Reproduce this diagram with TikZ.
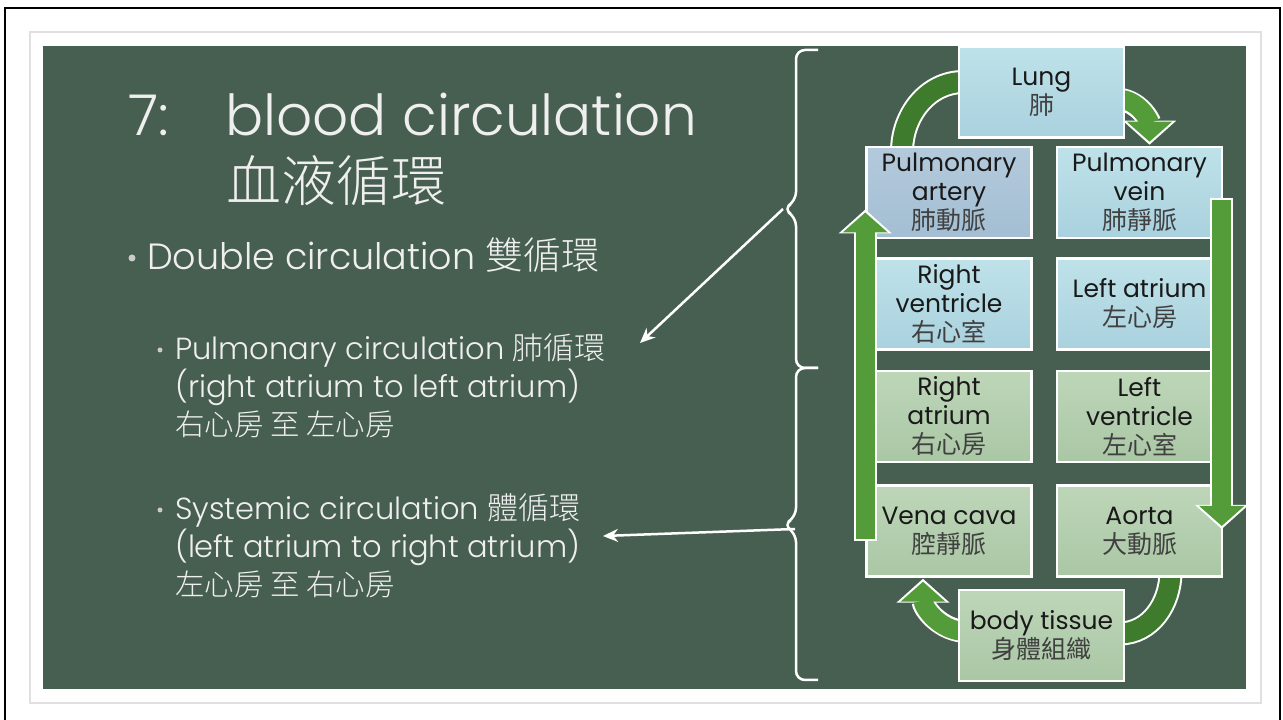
\documentclass[tikz,border=0pt]{standalone}
\usepackage{fontspec}
\setmainfont{Poppins}
\IfFontExistsTF{Poppins Light}{\newfontfamily\thinfont{Poppins Light}}{\newfontfamily\thinfont{Poppins}}
\newfontfamily\cjk{Noto Sans CJK TC}
\IfFontExistsTF{Noto Sans CJK TC Light}{\newfontfamily\cjkthin{Noto Sans CJK TC Light}}{\newfontfamily\cjkthin{Noto Sans CJK TC}}
\usetikzlibrary{positioning,arrows.meta,backgrounds}

\definecolor{board}{HTML}{475F50}
\definecolor{chalk}{HTML}{EFEFEF}
\definecolor{flowgreen}{HTML}{549C3A}
\definecolor{tailgreen}{HTML}{3F7B2C}
\definecolor{lungtop}{HTML}{BFE2E9}
\definecolor{lungbot}{HTML}{A9D1DE}
\definecolor{arttop}{HTML}{B3CADB}
\definecolor{artbot}{HTML}{A3BED3}
\definecolor{bodytop}{HTML}{BDD6B8}
\definecolor{bodybot}{HTML}{AAC7A5}

\tikzset{
  organ/.style={draw=white, line width=2.5pt, minimum width=165pt, minimum height=91pt,
    inner sep=1pt, align=center, text=black!90, font=\fontsize{25}{29}\selectfont},
  lungside/.style={organ, top color=lungtop, bottom color=lungbot},
  bodyside/.style={organ, top color=bodytop, bottom color=bodybot},
  flow/.style={flowgreen, line width=19pt, -{Triangle[width=44pt,length=20pt]},
    preaction={draw=white, line width=23pt, shorten >=-3pt, shorten <=-2pt,
      -{Triangle[width=52pt,length=24pt]}}},
  tail/.style={tailgreen, line width=20pt, preaction={draw=white, line width=24pt}},
  pointer/.style={white, line width=2.5pt, -{Stealth[length=15pt,width=13pt]}},
  chalktext/.style={text=chalk, inner sep=0pt, anchor=base west},
  bulletdot/.style={circle, fill=chalk!85!black, inner sep=0pt, minimum size=#1},
  bracket/.style={white, line width=2.5pt, rounded corners=9pt}
}
\newcommand{\zhbox}[1]{{\cjk\color{black!75}\fontsize{25}{29}\selectfont #1}}

\begin{document}
\begin{tikzpicture}[x=1pt, y=1pt]
  \useasboundingbox (0,0) rectangle (1283,720);
  % sfondo della diapositiva
  \begin{scope}[on background layer]
    \draw[line width=1.5pt] (5,-10) rectangle (1280,712);
    \draw[black!12, line width=1.5pt, fill=white] (30,17) rectangle (1261,688);
    \fill[board] (43,31) rectangle (1246,674);
  \end{scope}

  % titolo ed elenco
  \node[chalktext, font=\thinfont\fontsize{56.5}{60}\selectfont] (num) at (128,584) {7:};
  \node[chalktext, font=\thinfont\fontsize{56.5}{60}\selectfont] (heading) at (225,584) {blood circulation};
  \node[chalktext, font=\cjkthin\fontsize{55}{60}\selectfont] (headingzh) at (226,518) {血液循環};

  \node[bulletdot=7pt] (dot1) at (132,462) {};
  \node[chalktext, font=\thinfont\fontsize{36.5}{40}\selectfont] (double) at (147,450)
    {Double circulation {\cjkthin\fontsize{38}{40}\selectfont 雙循環}};

  \node[bulletdot=5pt] (dot2) at (160,370) {};
  \node[chalktext, font=\thinfont\fontsize{30.5}{38}\selectfont] (pulm) at (175,360)
    {Pulmonary circulation {\cjkthin\fontsize{31}{38}\selectfont 肺循環}};
  \node[chalktext, font=\thinfont\fontsize{30.5}{38}\selectfont] (pulmpath) at (175,322)
    {(right atrium to left atrium)};
  \node[chalktext, font=\cjkthin\fontsize{29.5}{38}\selectfont] (pulmzh) at (175,284)
    {右心房 至 左心房};

  \node[bulletdot=5pt] (dot3) at (160,210) {};
  \node[chalktext, font=\thinfont\fontsize{30.5}{38}\selectfont] (sys) at (175,200)
    {Systemic circulation {\cjkthin\fontsize{31}{38}\selectfont 體循環}};
  \node[chalktext, font=\thinfont\fontsize{30.5}{38}\selectfont] (syspath) at (175,162)
    {(left atrium to right atrium)};
  \node[chalktext, font=\cjkthin\fontsize{29.5}{38}\selectfont] (syszh) at (175,124)
    {左心房 至 右心房};

  % riquadri del circolo
  \node[lungside] (lung) at (1041.5,628) {Lung\\\zhbox{肺}};
  \node[lungside, top color=arttop, bottom color=artbot]
    (partery) at (949,527.5) {Pulmonary\\artery\\\zhbox{肺動脈}};
  \node[lungside, right=23pt of partery] (pvein) {Pulmonary\\vein\\\zhbox{肺靜脈}};
  \node[lungside, below=18pt of partery] (rventricle) {Right\\ventricle\\\zhbox{右心室}};
  \node[lungside, below=18pt of pvein] (latrium) {Left atrium\\\zhbox{左心房}};
  \node[bodyside, below=19pt of rventricle] (ratrium) {Right\\atrium\\\zhbox{右心房}};
  \node[bodyside, below=19pt of latrium] (lventricle) {Left\\ventricle\\\zhbox{左心室}};
  \node[bodyside, below=21pt of ratrium] (vcava) {Vena cava\\\zhbox{腔靜脈}};
  \node[bodyside, below=21pt of lventricle] (aorta) {Aorta\\\zhbox{大動脈}};
  \node[bodyside] (tissue) at (1041.5,84.5) {body tissue\\\zhbox{身體組織}};

  % frecce curve dietro i riquadri
  \begin{scope}[on background layer]
    \draw[tail] ([xshift=-47pt,yshift=-6pt]partery.north) to[out=90,in=180] ([xshift=6pt,yshift=10pt]lung.west);
    \draw[flow] ([xshift=-8pt,yshift=-7pt]lung.east) to[out=0,in=90] ([xshift=10pt,yshift=4pt]pvein.north);
    \draw[tail] ([xshift=31pt,yshift=6pt]aorta.south) to[out=-90,in=0] ([xshift=-6pt,yshift=2pt]tissue.east);
    \draw[flow] ([xshift=8pt,yshift=4pt]tissue.west) to[out=180,in=-90] ([xshift=-26pt,yshift=-4pt]vcava.south);
  \end{scope}
  \draw[flow] ([xshift=-1.5pt,yshift=-8pt]pvein.east) -- ([xshift=-1.5pt,yshift=5pt]aorta.east);
  \draw[flow] ([yshift=-8pt]vcava.west) -- ([yshift=-20pt]partery.west);

  % parentesi e frecce bianche
  \coordinate (pulmtip) at (783,511);
  \coordinate (systip) at (783,195);
  \draw[bracket] (818,670) -- (796,670) -- (796,519) -- (pulmtip) -- (796,503) -- (796,352) -- (818,352);
  \draw[bracket] (818,352) -- (796,352) -- (796,203) -- (systip) -- (796,187) -- (796,40) -- (818,40);
  \coordinate (pulmend) at (640,377);
  \coordinate (sysend) at (603,184);
  \draw[pointer] (pulmtip) -- (pulmend);
  \draw[pointer] ([xshift=12pt,yshift=-4pt]systip) -- (sysend);
\end{tikzpicture}
\end{document}
